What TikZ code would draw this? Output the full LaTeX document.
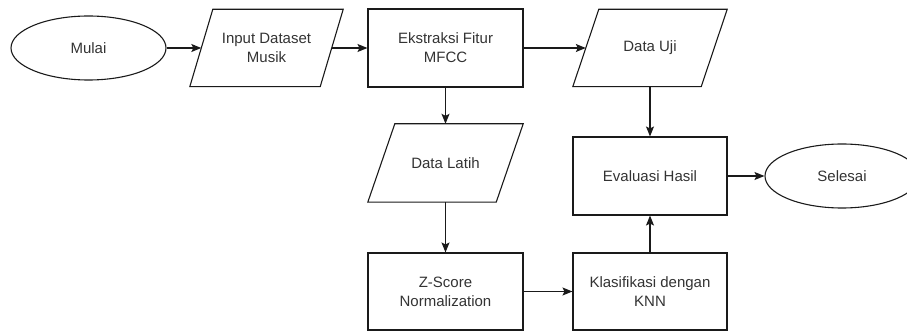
\documentclass[tikz,border=0pt]{standalone}
\usepackage{fontspec}
\setmainfont{Liberation Sans}
\usetikzlibrary{arrows.meta, shapes.geometric}
\definecolor{labelgray}{HTML}{333333}
\definecolor{strokegray}{HTML}{1A1A1A}

% outline of a data (parallelogram) symbol around a text node
% #1 = node name, #2 = half of the horizontal slant
\newcommand\dataoutline[2]{%
  \draw[outline] ([xshift=#2]#1.north west) -- ([xshift=#2]#1.north east)
    -- ([xshift=-#2]#1.south east) -- ([xshift=-#2]#1.south west) -- cycle;}

\begin{document}
\begin{tikzpicture}[x=1pt, y=-1pt,
  outline/.style={draw=strokegray, line width=1.1pt, line join=miter},
  label/.style={align=center, text=labelgray, inner sep=0pt,
    font=\fontsize{15}{19}\selectfont},
  process/.style={label, outline, minimum width=155pt, minimum height=78pt},
  terminal/.style={label, outline, ellipse, minimum width=155pt, minimum height=64pt},
  databox/.style={label, minimum width=130pt, minimum height=77pt},
  flow/.style={draw=strokegray, line width=1.1pt,
    -{Stealth[length=10pt, width=8pt, inset=2pt]}}]
  \useasboundingbox (0,0) rectangle (907,331);
  \clip (0,0) rectangle (907,331);

  % top row
  \node[terminal] (mulai) at (88.5,48) {Mulai};
  \node[databox] (input) at (266.5,48) {Input Dataset\\Musik};
  \dataoutline{input}{11.5pt}
  \node[process] (mfcc) at (445.5,48) {Ekstraksi Fitur\\MFCC};
  \node[databox, minimum width=128pt] (uji) at (650,48) {Data Uji};
  \dataoutline{uji}{13pt}

  % middle row
  \node[databox, minimum width=128pt, minimum height=78pt] (latih) at (445.5,163) {Data Latih};
  \dataoutline{latih}{13.5pt}
  \node[process, minimum width=154pt] (eval) at (650,176) {Evaluasi Hasil};
  \node[terminal, minimum width=154pt] (selesai) at (842,176) {Selesai};

  % bottom row
  \node[process, minimum height=77pt] (zscore) at (445.5,291.5) {Z-Score\\Normalization};
  \node[process, minimum width=154pt, minimum height=77pt] (knn) at (650,291.5) {Klasifikasi dengan\\KNN};

  % connectors
  \draw[flow] (mulai) -- (input);
  \draw[flow] (input) -- (mfcc);
  \draw[flow] (mfcc) -- (uji);
  \draw[flow] (mfcc) -- (latih);
  \draw[flow] (uji) -- (eval);
  \draw[flow] (latih) -- (zscore);
  \draw[flow] (zscore) -- (knn);
  \draw[flow] (knn) -- (eval);
  \draw[flow] (eval) -- (selesai);
\end{tikzpicture}
\end{document}
